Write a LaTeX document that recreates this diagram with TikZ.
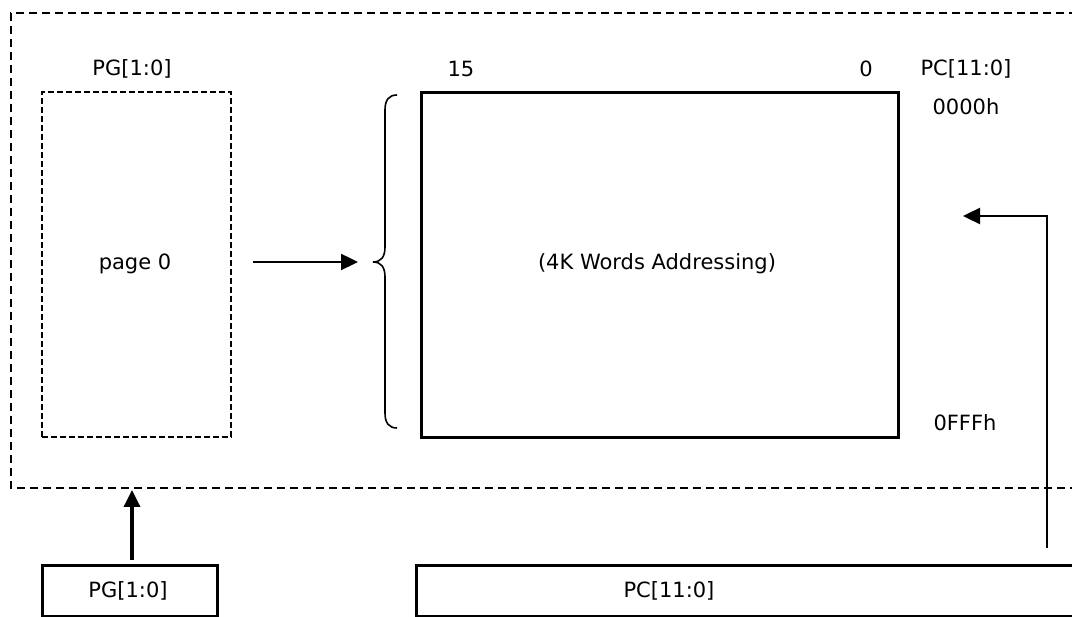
\documentclass[tikz,border=0pt]{standalone}
\usepackage{fontspec}
\setmainfont{DejaVu Sans}
\usetikzlibrary{arrows.meta}
\begin{document}
\begin{tikzpicture}[x=1pt,y=-1pt,
  every node/.style={font=\fontsize{21}{24}\selectfont, inner sep=0pt},
  lbl/.style={anchor=center},
  solidbox/.style={draw, line width=2.6pt, anchor=north west},
  pagebox/.style={draw, line width=2.4pt, dash pattern=on 6pt off 3pt, anchor=north west},
  outerbox/.style={line width=1.7pt, dash pattern=on 8pt off 5pt},
  conn/.style={line width=2.4pt, -{Triangle[length=17pt,width=16pt]}},
  thickconn/.style={line width=3.5pt, -{Triangle[length=17pt,width=16pt]}}
]
\useasboundingbox (0,0) rectangle (1072,617);
\clip (0,0) rectangle (1072,617);
% outer dashed region
\draw[outerbox] (1090,13) -- (11,13) -- (11,488) -- (1090,488);
% page 0 box
\node[pagebox, minimum width=189pt, minimum height=345pt] (page0) at (41,91) {};
\node[lbl] (page0txt) at (135,264) {page 0};
\node[lbl] (pgtop) at (132,69) {PG[1:0]};
% main memory box
\node[solidbox, minimum width=477pt, minimum height=345pt] (mem) at (420,91) {};
\node[lbl] (memtxt) at (657,264) {(4K Words Addressing)};
\node[lbl] (b15) at (461,69) {15};
\node[lbl] (b0) at (866,69) {0};
\node[lbl] (pctop) at (966,69) {PC[11:0]};
\node[lbl] (a0) at (966,107) {0000h};
\node[lbl] (a1) at (965,423) {0FFFh};
% brace
\coordinate (brace) at (373,262);
\draw[line width=1.6pt] (397,95) .. controls (389,95) and (385,100) .. (385,110)
  -- (385,247) .. controls (385,257) and (381,262) .. (brace)
  .. controls (381,262) and (385,267) .. (385,277)
  -- (385,413) .. controls (385,423) and (389,428) .. (397,428);
% arrow page0 -> brace
\coordinate (arrA) at (253,262);
\coordinate (arrB) at (358,262);
\draw[conn] (arrA) -- (arrB);
% bottom boxes
\node[solidbox, minimum width=175pt, minimum height=51pt] (pgbox) at (41,564) {};
\node[lbl] (pgtxt) at (128,591) {PG[1:0]};
\node[solidbox, minimum width=700pt, minimum height=51pt] (pcbox) at (415,564) {};
\node[lbl] (pctxt) at (669,591) {PC[11:0]};
% arrow PG box up
\coordinate (upA) at (132,560);
\coordinate (upB) at (132,490);
\draw[thickconn] (upA) -- (upB);
% arrow from PC up and left
\coordinate (rA) at (1047,548);
\coordinate (rB) at (1047,216);
\coordinate (rC) at (963,216);
\draw[conn] (rA) -- (rB) -- (rC);
\end{tikzpicture}
\end{document}
